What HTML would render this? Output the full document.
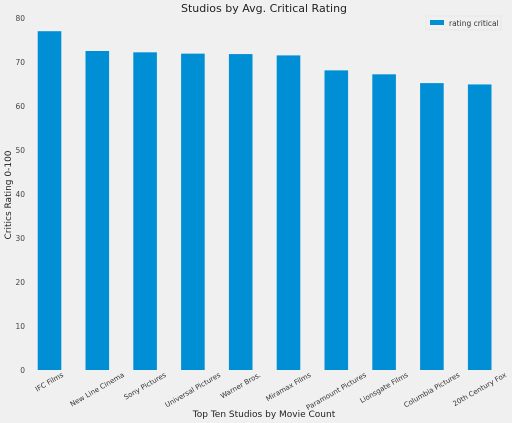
<!DOCTYPE html>
<html><head><meta charset="utf-8"><style>
body{margin:0;background:#f0f0f0;}
svg{display:block;font-family:"DejaVu Sans","Liberation Sans",sans-serif;}
</style></head><body>
<svg id="chart" width="512" height="423">
<rect width="512" height="423" fill="#f0f0f0"/>
<text x="264" y="12" text-anchor="middle" font-size="11" fill="#222">Studios by Avg. Critical Rating</text>
<text x="264" y="417" text-anchor="middle" font-size="9" fill="#222">Top Ten Studios by Movie Count</text>
<text transform="translate(11,195) rotate(-90)" text-anchor="middle" font-size="9" fill="#222">Critics Rating 0-100</text>
<g id="yticks"></g><g id="bars"></g><g id="xlabels"></g>
<g>
<rect x="426" y="16" width="75" height="14" fill="#f0f0f0" stroke="#ddd" stroke-width="0.5"/>
<rect x="430" y="20" width="14" height="5" fill="#008fd5"/>
<text x="449" y="26" font-size="7.5" fill="#333">rating critical</text>
</g>
</svg>
<script>
const categories=["IFC Films","New Line Cinema","Sony Pictures","Universal Pictures","Warner Bros.","Miramax Films","Paramount Pictures","Lionsgate Films","Columbia Pictures","20th Century Fox"];
const values=[77.0,72.5,72.2,71.9,71.8,71.5,68.1,67.2,65.2,64.9];
const yTicks=[0,10,20,30,40,50,60,70,80];
const ns="http://www.w3.org/2000/svg";
const y=v=>370-v*4.4;
const x=i=>49.5+i*47.8;
const yt=document.getElementById('yticks'),bg=document.getElementById('bars'),xl=document.getElementById('xlabels');
yTicks.forEach(t=>{const e=document.createElementNS(ns,'text');


e.setAttribute('x',25);e.setAttribute('y',y(t)+3);e.setAttribute('text-anchor','end');e.setAttribute('font-size','7.5');e.setAttribute('fill','#444');e.textContent=t;yt.appendChild(e);});
values.forEach((v,i)=>{const r=document.createElementNS(ns,'rect');


r.setAttribute('x',x(i)-11.8);r.setAttribute('width',23.6);r.setAttribute('y',y(v));r.setAttribute('height',370-y(v));r.setAttribute('fill','#008fd5');bg.appendChild(r);
const t=document.createElementNS(ns,'text');


t.setAttribute('text-anchor','middle');t.setAttribute('dominant-baseline','central');t.setAttribute('font-size','7');t.setAttribute('fill','#333');t.textContent=categories[i];xl.appendChild(t);
const w=t.getComputedTextLength();
const cy=371+(w*0.5+8*0.87)/2;
t.setAttribute('transform',`translate(${x(i)},${cy}) rotate(-30)`);});
</script>
</body></html>
